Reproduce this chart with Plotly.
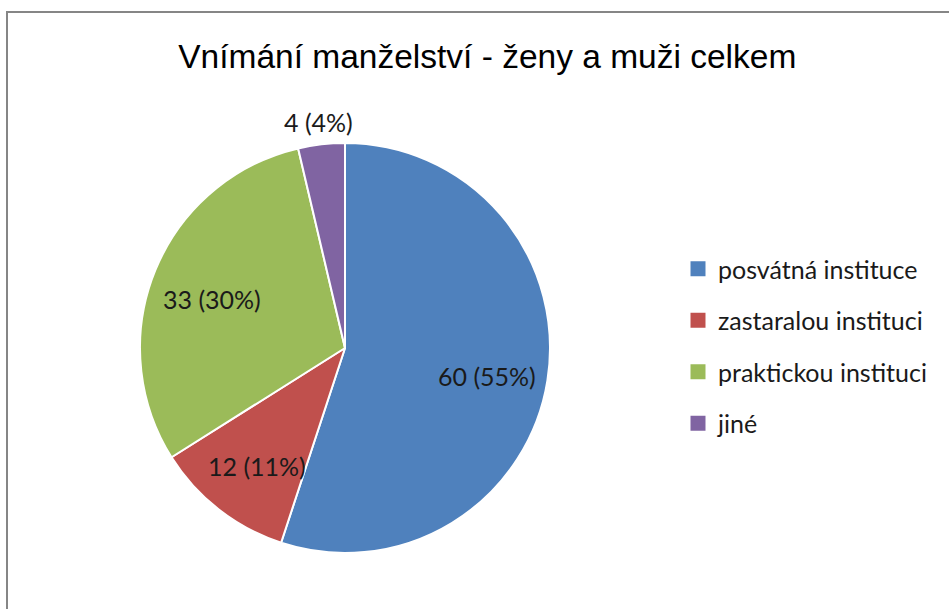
import math
import plotly.graph_objects as go

categories = ["posvátná instituce", "zastaralou instituci", "praktickou instituci", "jiné"]
values = [60, 12, 33, 4]
colors = ["#4F81BD", "#C0504D", "#9BBB59", "#8064A2"]
title_text = "Vnímání manželství - ženy a muži celkem"

W, H = 949, 609
# pie domain (pixels)
PX0, PX1, PY0, PY1 = 140, 550, 143, 553
# pie centre / radius (pixels) used to place the data labels
CX, CY, R = (PX0 + PX1) / 2, (PY0 + PY1) / 2, (PX1 - PX0) / 2

fig = go.Figure()
fig.add_trace(go.Pie(
    labels=categories,
    values=values,
    sort=False,
    direction="clockwise",
    rotation=0,
    marker=dict(colors=colors, line=dict(color="white", width=2)),
    textinfo="none",
    domain=dict(x=[PX0 / W, PX1 / W], y=[1 - PY1 / H, 1 - PY0 / H]),
    showlegend=False,
    hoverinfo="label+value+percent",
))

# data labels, placed like Excel's "best fit": inside at ~70% radius, small slices outside
total = sum(values)
cum = 0
annotations = []
for v in values:
    mid = (cum + v / 2) / total * 2 * math.pi
    cum += v
    pct = v / total
    r = 0.7 * R if pct >= 0.05 else R + 23
    x_px = CX + r * math.sin(mid)
    y_px = CY - r * math.cos(mid) + (5 if pct >= 0.05 else 0)
    annotations.append(dict(
        x=x_px / W, y=1 - y_px / H, xref="paper", yref="paper",
        text=f"{v} ({pct:.0%})", showarrow=False,
        xanchor="center", yanchor="middle",
        font=dict(family="Lato", size=25, color="#1a1a1a"),
    ))

for i, (cat, col) in enumerate(zip(categories, colors)):
    fig.add_trace(go.Scatter(
        x=[None], y=[None], mode="markers", name=cat,
        marker=dict(symbol="square", size=15, color=col),
        legendgroup=f"g{i}", showlegend=True,
    ))

fig.update_layout(
    width=W, height=H,
    margin=dict(l=0, r=0, t=0, b=0),
    paper_bgcolor="white", plot_bgcolor="white",
    title=dict(text=title_text, x=0.5135, xanchor="center", y=1 - 56 / H, yanchor="middle",
               font=dict(family="Liberation Sans", size=33.5, color="#000000")),
    xaxis=dict(visible=False), yaxis=dict(visible=False),
    legend=dict(x=678 / W, xanchor="left", y=1 - 246 / H, yanchor="top",
                font=dict(family="Lato", size=25, color="#1a1a1a"),
                traceorder="grouped", tracegroupgap=16, itemwidth=30,
                bgcolor="rgba(0,0,0,0)"),
    annotations=annotations,
    shapes=[dict(type="rect", xref="paper", yref="paper",
                 x0=7 / W, x1=1.02, y0=-0.02, y1=1 - 12 / H,
                 line=dict(color="#868686", width=2))],
)

fig.write_html("out.html", config={"displayModeBar": False},
               post_script="document.body.style.margin='0';")
